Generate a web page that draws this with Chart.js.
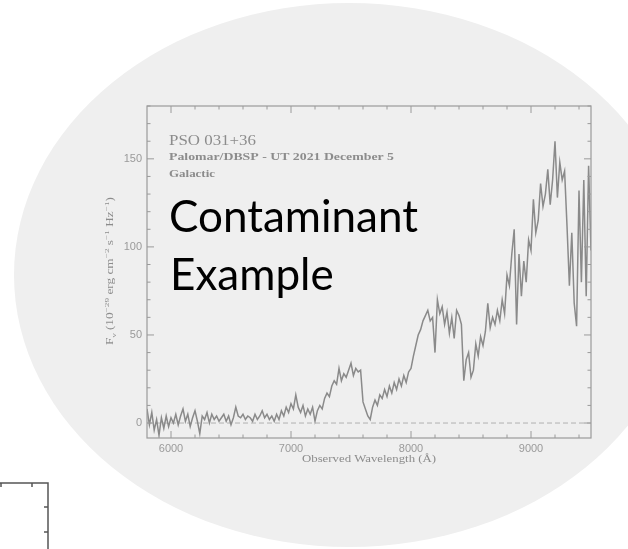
<!DOCTYPE html>
<html>
<head>
<meta charset="utf-8">
<script src="https://cdn.jsdelivr.net/npm/chart.js@4.4.1/dist/chart.umd.min.js"></script>
<style>
	html, body { margin: 0; padding: 0; background: #ffffff; }
	canvas { display: block; }
</style>
</head>
<body>
<canvas id="chart" width="628" height="549"></canvas>
<script type="text/javascript">
	// observed wavelength (Angstrom), 20 A sampling
	let wavelength = [
		5800, 5820, 5840, 5860, 5880, 5900, 5920, 5940, 5960, 5980, 6000,
		6020, 6040, 6060, 6080, 6100, 6120, 6140, 6160, 6180, 6200,
		6220, 6240, 6260, 6280, 6300, 6320, 6340, 6360, 6380, 6400,
		6420, 6440, 6460, 6480, 6500, 6520, 6540, 6560, 6580, 6600,
		6620, 6640, 6660, 6680, 6700, 6720, 6740, 6760, 6780, 6800,
		6820, 6840, 6860, 6880, 6900, 6920, 6940, 6960, 6980, 7000,
		7020, 7040, 7060, 7080, 7100, 7120, 7140, 7160, 7180, 7200,
		7220, 7240, 7260, 7280, 7300, 7320, 7340, 7360, 7380, 7400,
		7420, 7440, 7460, 7480, 7500, 7520, 7540, 7560, 7580, 7600,
		7620, 7640, 7660, 7680, 7700, 7720, 7740, 7760, 7780, 7800,
		7820, 7840, 7860, 7880, 7900, 7920, 7940, 7960, 7980, 8000,
		8020, 8040, 8060, 8080, 8100, 8120, 8140, 8160, 8180, 8200,
		8220, 8240, 8260, 8280, 8300, 8320, 8340, 8360, 8380, 8400,
		8420, 8440, 8460, 8480, 8500, 8520, 8540, 8560, 8580, 8600,
		8620, 8640, 8660, 8680, 8700, 8720, 8740, 8760, 8780, 8800,
		8820, 8840, 8860, 8880, 8900, 8920, 8940, 8960, 8980, 9000,
		9020, 9040, 9060, 9080, 9100, 9120, 9140, 9160, 9180, 9200,
		9220, 9240, 9260, 9280, 9300, 9320, 9340, 9360, 9380, 9400,
		9420, 9440, 9460, 9480, 9500,
	]
	// F_nu in 1e-29 erg cm-2 s-1 Hz-1
	let flux = [
		8, -1, 6, -4, 2, -7, 3, -3, 4, -2, 3,
		0, 5, -1, 4, 8, 1, 5, -2, 3, 7,
		1, -6, 4, 2, 6, 0, 5, 2, 4, 1,
		3, 5, 1, 4, -1, 3, 9, 4, 3, 5,
		2, 4, 3, 1, 5, 2, 4, 7, 3, 5,
		2, 4, 1, 5, 2, 7, 4, 9, 6, 11,
		8, 16, 9, 6, 10, 4, 8, 5, 9, 1,
		7, 10, 8, 14, 17, 15, 21, 24, 22, 31,
		24, 28, 26, 30, 34, 27, 31, 29, 30, 12,
		8, 4, 2, 9, 13, 10, 16, 14, 19, 15,
		21, 17, 23, 19, 25, 21, 27, 23, 29, 31,
		38, 44, 50, 53, 58, 61, 64, 58, 60, 40,
		70, 62, 66, 56, 63, 51, 60, 48, 64, 61,
		56, 24, 36, 40, 26, 30, 45, 38, 49, 44,
		52, 68, 54, 60, 56, 64, 58, 70, 62, 84,
		78, 96, 110, 56, 96, 72, 92, 80, 104, 98,
		127, 108, 115, 136, 123, 130, 144, 124, 138, 160,
		128, 148, 138, 143, 112, 78, 108, 68, 55, 132,
		80, 138, 72, 146, 98,
	]
	let xTicks = [6000, 7000, 8000, 9000]
	let yTicks = [0, 50, 100, 150]
	let xRange = [5800, 9500]
	let yRange = [-8.5, 180]
	let titleLines = ["PSO 031+36", "Palomar/DBSP - UT 2021 December 5", "Galactic"]
	let overlayLines = ["Contaminant", "Example"]

	let grey = "#9a9a9a"

	// squeeze/stretch a text to a given width
	function fitText(ctx, text, x, y, width) {
		let w = ctx.measureText(text).width
		ctx.save()
		ctx.translate(x, y)
		ctx.scale(width / w, 1)
		ctx.fillText(text, 0, 0)
		ctx.restore()
	}

	let backdrop = {
		id: "backdrop",
		beforeDraw: function(chart) {
			let ctx = chart.ctx
			ctx.save()
			ctx.fillStyle = "#efefef"
			ctx.beginPath()
			ctx.ellipse(349, 275, 335, 272, 0, 0, Math.PI * 2)
			ctx.fill()
			// corner of another frame, bottom left
			ctx.strokeStyle = "#555555"
			ctx.lineWidth = 1.5
			ctx.beginPath()
			ctx.moveTo(0, 483)
			ctx.lineTo(48, 483)
			ctx.lineTo(48, 549)
			ctx.moveTo(32, 483)
			ctx.lineTo(32, 487)
			ctx.moveTo(1, 483)
			ctx.lineTo(1, 487)
			ctx.moveTo(48, 507)
			ctx.lineTo(44, 507)
			ctx.moveTo(48, 532)
			ctx.lineTo(44, 532)
			ctx.stroke()
			ctx.restore()
		},
	}

	let frame = {
		id: "frame",
		afterDraw: function(chart) {
			let ctx = chart.ctx
			let a = chart.chartArea
			let sx = chart.scales.x
			let sy = chart.scales.y
			ctx.save()
			ctx.strokeStyle = grey
			ctx.lineWidth = 1.2
			ctx.strokeRect(a.left, a.top, a.right - a.left, a.bottom - a.top)
			ctx.lineWidth = 1
			ctx.beginPath()
			for(let v=6000; v<=9400; v+=200) {
				let px = sx.getPixelForValue(v)
				let len = v % 1000 === 0 ? 7 : 3.5
				ctx.moveTo(px, a.bottom)
				ctx.lineTo(px, a.bottom - len)
				ctx.moveTo(px, a.top)
				ctx.lineTo(px, a.top + len)
			}
			for(let v=0; v<=180; v+=10) {
				let py = sy.getPixelForValue(v)
				let len = v % 50 === 0 ? 7 : 3.5
				ctx.moveTo(a.left, py)
				ctx.lineTo(a.left + len, py)
				ctx.moveTo(a.right, py)
				ctx.lineTo(a.right - len, py)
			}
			ctx.stroke()

			ctx.fillStyle = "#8c8c8c"
			ctx.textBaseline = "alphabetic"
			ctx.textAlign = "left"
			ctx.font = "14px 'Liberation Serif'"
			fitText(ctx, titleLines[0], 169, 145, 87)
			ctx.font = "bold 11px 'Liberation Serif'"
			fitText(ctx, titleLines[1], 169, 160, 225)
			fitText(ctx, titleLines[2], 169, 177, 46)

			// x axis title
			ctx.font = "11px 'Liberation Serif'"
			fitText(ctx, "Observed Wavelength (\u00c5)", 302, 462, 134)

			// y axis title with sub/superscripts
			let parts = [
				["F", 0, 10], ["\u03bd", 2.5, 7], [" (10", 0, 10], ["\u221229", -4, 7],
				[" erg cm", 0, 10], ["\u22122", -4, 7], [" s", 0, 10], ["\u22121", -4, 7],
				[" Hz", 0, 10], ["\u22121", -4, 7], [")", 0, 10],
			]
			let total = 0
			parts.forEach(function(p) {
				ctx.font = p[2] + "px 'Liberation Serif'"
				total += ctx.measureText(p[0]).width
			})
			ctx.translate(113, 345)
			ctx.rotate(-Math.PI / 2)
			ctx.scale(148 / total, 1)
			let cx = 0
			parts.forEach(function(p) {
				ctx.font = p[2] + "px 'Liberation Serif'"
				ctx.fillText(p[0], cx, p[1])
				cx += ctx.measureText(p[0]).width
			})
			ctx.restore()

			// big overlay label
			ctx.save()
			ctx.fillStyle = "#000000"
			ctx.font = "45px Lato"
			let w = ctx.measureText(overlayLines[0]).width
			let size = 45 * 249 / w
			ctx.font = size + "px Lato"
			ctx.fillText(overlayLines[0], 169, 232)
			ctx.fillText(overlayLines[1], 170, 290)
			ctx.restore()
		},
	}

	let spectrum = wavelength.map(function(w, i) {
		return { x: w, y: flux[i] }
	})

	let elem = document.querySelector("#chart")
	let chart = new Chart(elem, {
		type: "line",
		data: {
			datasets: [{
				data: spectrum,
				borderColor: "#8a8a8a",
				borderWidth: 1.5,
				pointRadius: 0,
				tension: 0,
			}, {
				data: [{ x: xRange[0], y: 0 }, { x: xRange[1], y: 0 }],
				borderColor: "#b0b0b0",
				borderWidth: 1,
				borderDash: [5, 3],
				pointRadius: 0,
			}],
		},
		options: {
			responsive: false,
			animation: false,
			devicePixelRatio: 1,
			layout: {
				padding: { left: 0, top: 106, right: 37, bottom: 0 },
			},
			plugins: {
				legend: { display: false },
				tooltip: { enabled: false },
			},
			scales: {
				x: {
					type: "linear",
					min: xRange[0],
					max: xRange[1],
					grid: { display: false, drawTicks: false },
					border: { display: false },
					ticks: {
						color: "#9a9a9a",
						font: { family: "'Liberation Sans'", size: 11 },
						padding: 4,
						maxRotation: 0,
						callback: function(v) { return String(v) },
					},
					afterBuildTicks: function(scale) {
						scale.ticks = xTicks.map(function(v) { return { value: v } })
					},
					afterFit: function(scale) {
						scale.height = 111
					},
				},
				y: {
					type: "linear",
					min: yRange[0],
					max: yRange[1],
					grid: { display: false, drawTicks: false },
					border: { display: false },
					ticks: {
						color: "#9a9a9a",
						font: { family: "'Liberation Sans'", size: 11 },
						padding: 5,
						callback: function(v) { return String(v) },
					},
					afterBuildTicks: function(scale) {
						scale.ticks = yTicks.map(function(v) { return { value: v } })
					},
					afterFit: function(scale) {
						scale.width = 147
					},
				},
			},
		},
		plugins: [backdrop, frame],
	})
</script>
</body>
</html>
